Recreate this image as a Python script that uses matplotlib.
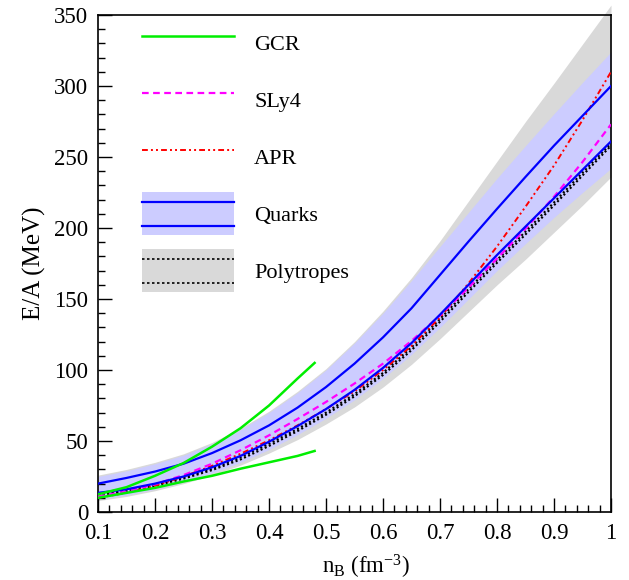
## -- E/A vs baryon density: GCR, SLy4, APR, quark and polytrope bands -- ##
import numpy as np
import matplotlib
matplotlib.use("Agg")
import matplotlib.pyplot as plt
from matplotlib.lines import Line2D
from matplotlib.patches import Patch, Rectangle
from matplotlib.legend_handler import HandlerBase

plt.rcParams['font.family'] = ['Liberation Serif', 'DejaVu Serif']
plt.rcParams['mathtext.fontset'] = 'custom'
plt.rcParams['mathtext.rm'] = 'Liberation Serif'
plt.rcParams['mathtext.it'] = 'Liberation Serif:italic'

##################################
## ---- Data ----##
##################################

n_B = [0.10, 0.15, 0.20, 0.25, 0.30, 0.35, 0.40, 0.45, 0.50, 0.55,
       0.60, 0.65, 0.70, 0.75, 0.80, 0.85, 0.90, 0.95, 1.00]

# quark band and its two bounding curves
quark_band_hi = [25, 29, 34, 40, 48, 58, 70, 84, 100, 119,
                 140, 163, 187, 211, 235, 258, 280.5, 302.5, 324]
quark_band_lo = [9, 12, 16, 21, 27.5, 35, 44, 54.5, 66, 79,
                 94, 111, 130, 150, 170, 189, 207.5, 225, 242]
quark_hi = [20, 24, 28.5, 34, 41.5, 50.5, 61, 73.5, 88, 104.5,
            123, 143.5, 167, 190.5, 213.5, 236, 258, 279, 300]
quark_lo = [13.5, 16, 20, 25, 31.5, 39.5, 49.5, 60.5, 72.5, 86,
            101.5, 119, 139, 160, 181, 201, 221, 241, 261]

# polytrope band and dotted curves
poly_band_hi = [26, 30, 35, 41, 49, 59, 71, 85, 101, 120,
                141.5, 165, 191, 219, 247, 275, 302, 329.5, 357]
poly_band_lo = [8, 11, 15, 20, 26, 33, 41.5, 51, 62, 74,
                88, 104, 122, 141, 160, 178, 197, 216, 236]
poly_a = [12, 14.5, 18.5, 23.5, 29.5, 37, 46.5, 57, 68.5, 81.5,
          96.5, 114, 134, 155, 175.5, 195.5, 216, 237, 258]
poly_b = [12.5, 15, 19.5, 24.5, 30.5, 38.5, 48, 58.5, 70, 83,
          98, 116, 136, 157, 177.5, 197.5, 218, 239, 259.5]

sly4 = [11, 14.5, 19.5, 26, 34, 43.5, 54, 65.5, 77.5, 90.5,
        104.5, 120.5, 138.5, 158, 178.5, 199.5, 222, 246.5, 273]
apr = [10, 13.5, 18.5, 25, 32.5, 41, 50.5, 61, 72.5, 85,
       100, 117, 137, 161, 187, 215, 244, 276, 310]

# GCR stops at 0.48 fm^-3
n_gcr = [0.10, 0.15, 0.20, 0.25, 0.30, 0.35, 0.40, 0.45, 0.48]
gcr_hi = [12.5, 17.5, 25.5, 34.5, 46, 59, 75, 94, 105]
gcr_lo = [10, 13.5, 17, 21.5, 25.5, 30.5, 35, 39.5, 43]

BLUE_FILL = "#ccccff"
GREY_FILL = "#d9d9d9"
GREEN = "#00ee00"

##################################
## ---- Legend band handler  ----##
##################################

class HandlerBand(HandlerBase):
    def __init__(self, face, line_kw):
        super().__init__()
        self.face = face
        self.line_kw = line_kw

    def create_artists(self, legend, orig_handle, xdescent, ydescent,
                       width, height, fontsize, trans):
        rect = Rectangle((-xdescent, -ydescent), width, height,
                         facecolor=self.face, edgecolor="none", transform=trans)
        arts = [rect]
        for f in (0.23, 0.77):
            y = -ydescent + f * height
            arts.append(Line2D([-xdescent, -xdescent + width], [y, y],
                               transform=trans, **self.line_kw))
        return arts

##################################
## ---- Plot                ----##
##################################

fig = plt.figure(figsize=(6.29, 5.80), dpi=100)
ax = fig.add_axes([0.1558, 0.1172, 0.8156, 0.8569])

ax.fill_between(n_B, poly_band_lo, poly_band_hi, color=GREY_FILL, lw=0,
                clip_on=False, zorder=1)
ax.fill_between(n_B, quark_band_lo, quark_band_hi, color=BLUE_FILL, lw=0,
                zorder=1.1)

dot_kw = dict(color="black", lw=1.5, dashes=(1, 1.2))
ax.plot(n_B, poly_b, **dot_kw, zorder=2)
ax.plot(n_B, poly_a, **dot_kw, zorder=2)

apr_kw = dict(color="red", lw=1.4, dashes=(3, 1.6, 1, 1.6, 1, 1.6))
sly_kw = dict(color="magenta", lw=1.6, dashes=(3, 2))
ax.plot(n_B, apr, **apr_kw, zorder=3)
ax.plot(n_B, sly4, **sly_kw, zorder=3)

blue_kw = dict(color="blue", lw=1.6)
ax.plot(n_B, quark_hi, **blue_kw, zorder=4)
ax.plot(n_B, quark_lo, **blue_kw, zorder=4)

ax.plot(n_gcr, gcr_hi, color=GREEN, lw=1.8, zorder=5)
ax.plot(n_gcr, gcr_lo, color=GREEN, lw=1.8, zorder=5)

ax.set_xlim(0.1, 1.0)
ax.set_ylim(0, 350)
ax.set_xticks(np.arange(0.1, 1.001, 0.1))
ax.set_xticklabels(["0.1", "0.2", "0.3", "0.4", "0.5", "0.6", "0.7", "0.8", "0.9", "1"])
ax.set_xticks(np.arange(0.1, 1.001, 0.02), minor=True)
ax.set_yticks(np.arange(0, 351, 50))
ax.set_yticks(np.arange(0, 351, 10), minor=True)

ax.tick_params(which="both", direction="in", top=False, right=False,
               labelsize=16.5, width=1)
ax.tick_params(which="major", length=10)
ax.tick_params(which="minor", length=5)
ax.tick_params(axis="x", pad=8)
ax.tick_params(axis="y", pad=7)
for s in ax.spines.values():
    s.set_linewidth(1.2)

ax.set_xlabel(r"n$_{\rm B}$ ($\rm fm^{-3}$)", fontsize=16.5)
ax.xaxis.set_label_coords(0.523, -0.083)
ax.set_ylabel("E/A (MeV)", fontsize=18, labelpad=6)

# legend
h_gcr = Line2D([], [], color=GREEN, lw=1.8)
h_sly = Line2D([], [], **sly_kw)
h_apr = Line2D([], [], **apr_kw)
h_qrk = Patch(facecolor=BLUE_FILL)
h_pol = Patch(facecolor=GREY_FILL)

ax.legend([h_gcr, h_sly, h_apr, h_qrk, h_pol],
          ["GCR", "SLy4", "APR", "Quarks", "Polytropes"],
          handler_map={h_qrk: HandlerBand(BLUE_FILL, blue_kw),
                       h_pol: HandlerBand(GREY_FILL, dict(color="black", lw=1.2, dashes=(1.5, 1.5)))},
          loc="upper left", bbox_to_anchor=(0.0858, 0.987),
          frameon=False, fontsize=16, borderpad=0, borderaxespad=0,
          handlelength=4.15, handleheight=2.6, labelspacing=0.63,
          handletextpad=0.9)

fig.savefig("out.png", dpi=100)
